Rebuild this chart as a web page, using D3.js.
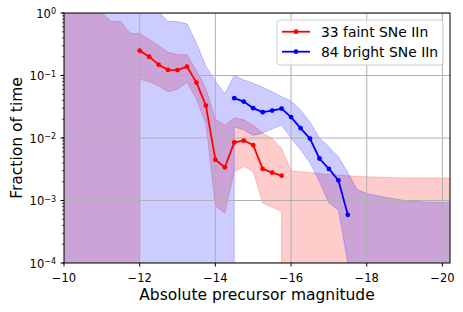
<!DOCTYPE html>
<html>
<head>
<meta charset="utf-8">
<script src="https://cdn.jsdelivr.net/npm/d3@7"></script>
<style>
body { margin: 0; background: #fff; }
text { font-family: "DejaVu Sans", sans-serif; fill: #000; }
</style>
</head>
<body>
<div id="chart-area"></div>
<script>
// faint sample (red)
var faintMag  = [-12, -12.25, -12.5, -12.75, -13, -13.25, -13.5, -13.75, -14, -14.25, -14.5, -14.75, -15, -15.25, -15.5, -15.75];
var faintFrac = [0.25, 0.20, 0.149, 0.123, 0.122, 0.139, 0.077, 0.033, 0.0045, 0.0034, 0.0085, 0.0091, 0.0077, 0.0032, 0.0028, 0.0025];

// bright sample (blue)
var brightMag  = [-14.5, -14.75, -15, -15.25, -15.5, -15.75, -16, -16.25, -16.5, -16.75, -17, -17.25, -17.5];
var brightFrac = [0.0434, 0.0383, 0.030, 0.0259, 0.0275, 0.0296, 0.0216, 0.0144, 0.0098, 0.0047, 0.0032, 0.0021, 0.00059];

// uncertainty bands (1e-10 = zero, below the axis)
var faintBandMag = [-10, -11, -11.25, -11.5, -11.75, -12, -12, -12.25, -12.5, -12.75, -13, -13.25, -13.5, -13.75, -14, -14.25,
                    -14.5, -14.75, -15, -15.25, -15.5, -15.75, -15.75, -16, -16.5, -17, -17.5, -18, -19, -20.3];
var faintBandLo  = [1e-10, 1e-10, 1e-10, 1e-10, 1e-10, 1e-10, 0.087, 0.08, 0.068, 0.055, 0.06, 0.078, 0.042, 0.017, 0.00081, 0.00063,
                    0.0029, 0.0035, 0.0029, 0.00091, 0.00078, 0.00067, 1e-10, 1e-10, 1e-10, 1e-10, 1e-10, 1e-10, 1e-10, 1e-10];
var faintBandHi  = [1, 1, 0.73, 0.73, 0.47, 0.47, 0.47, 0.38, 0.30, 0.235, 0.215, 0.215, 0.12, 0.062, 0.02, 0.016,
                    0.021, 0.0195, 0.016, 0.012, 0.0098, 0.0068, 0.0068, 0.003, 0.0028, 0.0026, 0.0025, 0.0024, 0.0023, 0.0023];

var brightBandMag = [-10, -12.25, -12.5, -12.75, -13, -13.25, -13.5, -13.75, -14, -14.25, -14.5, -14.5, -14.75, -15, -15.25, -15.5,
                     -15.75, -16, -16.25, -16.5, -16.75, -17, -17.25, -17.5, -17.75, -18, -18.5, -19, -19.5, -20.3];
var brightBandLo  = [1e-10, 1e-10, 1e-10, 1e-10, 1e-10, 1e-10, 1e-10, 1e-10, 1e-10, 1e-10, 1e-10, 0.015, 0.0135, 0.011, 0.012, 0.014,
                     0.016, 0.010, 0.0065, 0.004, 0.002, 0.00091, 0.00071, 0.0001, 1e-10, 1e-10, 1e-10, 1e-10, 1e-10, 1e-10];
var brightBandHi  = [2, 1.5, 1.05, 0.73, 0.73, 0.67, 0.33, 0.14, 0.082, 0.051, 0.10, 0.10, 0.085, 0.075, 0.065, 0.055,
                     0.046, 0.039, 0.028, 0.018, 0.010, 0.0072, 0.005, 0.0028, 0.0015, 0.0013, 0.00112, 0.001, 0.00095, 0.00092];

var xTicks = [-10, -12, -14, -16, -18, -20];
var yTicks = [1e-4, 1e-3, 1e-2, 1e-1, 1];
var yTickExp = ["\u22124", "\u22123", "\u22122", "\u22121", "0"];
var legendLabels = ["33 faint SNe IIn", "84 bright SNe IIn"];
var colors = ["#ff0000", "#0000ff"];

var width = 463, height = 312;
var margin = {left: 64, right: 13, top: 13, bottom: 49};

var svg = d3.select("#chart-area").append("svg")
    .attr("width", width)
    .attr("height", height);

var x = d3.scaleLinear().domain([-10, -20.2]).range([margin.left, width - margin.right]);
var y = d3.scaleLog().domain([1e-4, 1]).range([height - margin.bottom, margin.top]);

svg.append("clipPath").attr("id", "plot-clip")
  .append("rect")
    .attr("x", margin.left).attr("y", margin.top)
    .attr("width", width - margin.left - margin.right)
    .attr("height", height - margin.top - margin.bottom);

var plot = svg.append("g").attr("clip-path", "url(#plot-clip)");

function band(mag, lo, hi, color) {
    var area = d3.area()
        .x((d, i) => x(mag[i]))
        .y0((d, i) => y(lo[i]))
        .y1((d, i) => y(hi[i]));
    plot.append("path")
        .attr("d", area(mag))
        .attr("fill", color).attr("fill-opacity", 0.2)
        .attr("stroke", color).attr("stroke-opacity", 0.2)
        .attr("stroke-width", 1);
}
band(faintBandMag, faintBandLo, faintBandHi, colors[0]);
band(brightBandMag, brightBandLo, brightBandHi, colors[1]);

// grid
plot.selectAll(".gx").data(xTicks).enter().append("line")
    .attr("x1", d => x(d)).attr("x2", d => x(d))
    .attr("y1", margin.top).attr("y2", height - margin.bottom)
    .attr("stroke", "#b0b0b0").attr("stroke-width", 1);
plot.selectAll(".gy").data(yTicks).enter().append("line")
    .attr("x1", margin.left).attr("x2", width - margin.right)
    .attr("y1", d => y(d)).attr("y2", d => y(d))
    .attr("stroke", "#b0b0b0").attr("stroke-width", 1);

function series(mag, frac, color) {
    var line = d3.line().x((d, i) => x(mag[i])).y(d => y(d));
    plot.append("path")
        .attr("d", line(frac))
        .attr("fill", "none").attr("stroke", color)
        .attr("stroke-width", 1.8).attr("stroke-linejoin", "round");
    plot.selectAll(null).data(frac).enter().append("circle")
        .attr("cx", (d, i) => x(mag[i]))
        .attr("cy", d => y(d))
        .attr("r", 2.4)
        .attr("fill", color);
}
series(faintMag, faintFrac, colors[0]);
series(brightMag, brightFrac, colors[1]);

// frame
svg.append("rect")
    .attr("x", margin.left).attr("y", margin.top)
    .attr("width", width - margin.left - margin.right)
    .attr("height", height - margin.top - margin.bottom)
    .attr("fill", "none").attr("stroke", "#000").attr("stroke-width", 1);

// x ticks
var bottom = height - margin.bottom;
svg.selectAll(".xt").data(xTicks).enter().append("line")
    .attr("x1", d => x(d)).attr("x2", d => x(d))
    .attr("y1", bottom).attr("y2", bottom + 3.5)
    .attr("stroke", "#000");
svg.selectAll(".xl").data(xTicks).enter().append("text")
    .attr("x", d => x(d)).attr("y", bottom + 19)
    .attr("text-anchor", "middle")
    .attr("font-size", "11.5px")
    .text(d => "\u2212" + Math.abs(d));

// y ticks, major and minor
svg.selectAll(".ym").data(y.ticks()).enter().append("line")
    .attr("x1", margin.left - 2).attr("x2", margin.left)
    .attr("y1", d => y(d)).attr("y2", d => y(d))
    .attr("stroke", "#000").attr("stroke-width", 0.7);
svg.selectAll(".yt").data(yTicks).enter().append("line")
    .attr("x1", margin.left - 3.5).attr("x2", margin.left)
    .attr("y1", d => y(d)).attr("y2", d => y(d))
    .attr("stroke", "#000");
var yl = svg.selectAll(".yl").data(yTicks).enter().append("text")
    .attr("x", margin.left - 8).attr("y", d => y(d) + 4.6)
    .attr("text-anchor", "end")
    .attr("font-size", "11.5px");
yl.append("tspan").text("10");
yl.append("tspan").attr("dy", -3.6).attr("font-size", "8px").text((d, i) => yTickExp[i]);

// axis labels
svg.append("text")
    .attr("x", (margin.left + width - margin.right) / 2).attr("y", 300)
    .attr("text-anchor", "middle").attr("font-size", "15.5px")
    .text("Absolute precursor magnitude");
svg.append("text")
    .attr("transform", "translate(21.5," + ((margin.top + bottom) / 2) + ") rotate(-90)")
    .attr("text-anchor", "middle").attr("font-size", "15.5px")
    .text("Fraction of time");

// legend
var lg = svg.append("g");
lg.append("rect")
    .attr("x", 277).attr("y", 20).attr("width", 166).attr("height", 45).attr("rx", 3)
    .attr("fill", "#fff").attr("fill-opacity", 0.8)
    .attr("stroke", "#cccccc").attr("stroke-width", 1);
legendLabels.forEach((label, i) => {
    var ly = 31.7 + i * 20;
    lg.append("line").attr("x1", 282).attr("x2", 310).attr("y1", ly).attr("y2", ly)
        .attr("stroke", colors[i]).attr("stroke-width", 1.8);
    lg.append("circle").attr("cx", 296).attr("cy", ly).attr("r", 2.4).attr("fill", colors[i]);
    lg.append("text").attr("x", 321).attr("y", ly + 5)
        .attr("font-size", "13.9px").text(label);
});
</script>
</body>
</html>
